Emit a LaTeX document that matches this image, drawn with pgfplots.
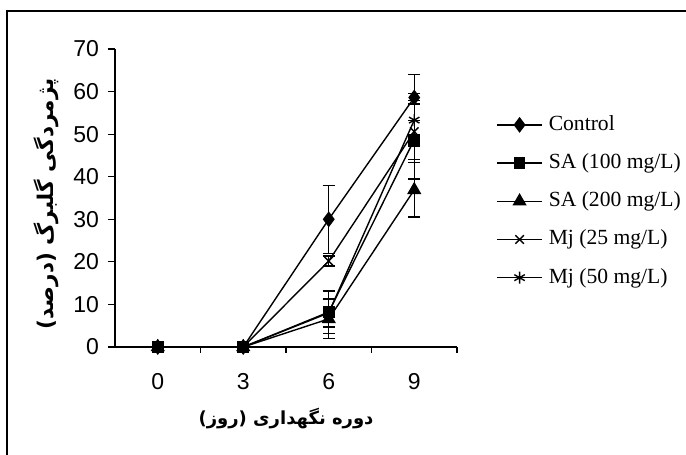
\documentclass[border=0pt]{standalone}
\usepackage{fontspec}
\setmainfont{Liberation Sans}
\newfontfamily\legfont{Liberation Serif}
\newfontfamily\arabicfont[Script=Arabic]{DejaVu Sans}
\TeXXeTstate=1
\usepackage{pgfplots}
\pgfplotsset{compat=1.18}
\pgfplotsset{myser/.style={black, line width=0.7pt,
    /pgfplots/error bars/y dir=both, /pgfplots/error bars/y explicit,
    /pgfplots/error bars/error bar style={line width=0.7pt},
    /pgfplots/error bars/error mark options={rotate=90, mark size=3pt, line width=0.7pt}}}
\begin{document}
\begin{tikzpicture}
\useasboundingbox (-57.5pt,-54pt) rectangle (285.5pt,173.5pt);
\draw[line width=0.7pt] (-54pt,-60pt) -- (-54pt,168pt) -- (290pt,168pt);
\begin{axis}[
  at={(0,0)}, anchor=south west,
  scale only axis, width=171pt, height=149pt,
  xmin=-0.5, xmax=3.5, ymin=0, ymax=70,
  axis lines*=left,
  axis line style={line width=0.6pt},
  xtick={0,1,2,3}, xticklabels={0,3,6,9},
  minor xtick={0.5,1.5,2.5,3.5},
  major x tick style={draw=none},
  ytick={0,10,...,70},
  tick align=outside,
  major tick length=3.5pt, minor tick length=3pt,
  every tick/.style={black, line width=0.6pt},
  /pgf/number format/assume math mode=true,
  tick label style={font=\fontsize{11.5}{13}\selectfont},
  xticklabel style={yshift=-6pt},
  yticklabel style={xshift=-1pt},
  ylabel={\arabicfont\bfseries\beginR پژمردگی گلبرگ (درصد)\endR},
  xlabel={\arabicfont\bfseries\beginR دوره نگهداری (روز)\endR},
  xlabel style={font=\fontsize{9}{11}\selectfont, at={(axis description cs:0.5,-0.24)}, anchor=center},
  ylabel style={font=\fontsize{10.8}{12}\selectfont, at={(axis description cs:-0.2018,0.48)}, anchor=center},
  legend style={at={(rel axis cs:1.114,0.782)}, anchor=north west, draw=none, fill=none,
    inner sep=0pt, font=\legfont\fontsize{10.8}{12}\selectfont, row sep=8.6pt,
    nodes={inner xsep=3pt, inner ysep=0pt, text height=8pt, text depth=2.5pt}},
  legend cell align=left,
  legend image code/.code={\draw[mark repeat=2,mark phase=2] plot coordinates {(0pt,0pt) (11.25pt,0pt) (22.5pt,0pt)};},
]
\addplot[myser, mark=diamond*, mark size=3.4pt, mark options={fill=black}] table[x=x,y=y,y error=e] {
x y e
0 0 0
1 0 0
2 30.0 8.0
3 58.6 5.4
};
\addlegendentry{Control}
\addplot[myser, mark=square*, mark size=2.6pt, mark options={fill=black}] table[x=x,y=y,y error=e] {
x y e
0 0 0
1 0 0
2 8.2 5.0
3 48.7 9.2
};
\addlegendentry{SA (100 mg/L)}
\addplot[myser, mark=triangle*, mark size=3.4pt, mark options={fill=black}] table[x=x,y=y,y error=e] {
x y e
0 0 0
1 0 0
2 6.6 4.6
3 36.9 6.4
};
\addlegendentry{SA (200 mg/L)}
\addplot[myser, mark=x, mark size=3pt] table[x=x,y=y,y error=e] {
x y e
0 0 0
1 0 0
2 20.2 1.2
3 50.6 6.5
};
\addlegendentry{Mj (25 mg/L)}
\addplot[myser, mark=asterisk, mark size=3pt] table[x=x,y=y,y error=e] {
x y e
0 0 0
1 0 0
2 8.0 3.3
3 53.3 6.2
};
\addlegendentry{Mj (50 mg/L)}
\end{axis}
\end{tikzpicture}
\end{document}
